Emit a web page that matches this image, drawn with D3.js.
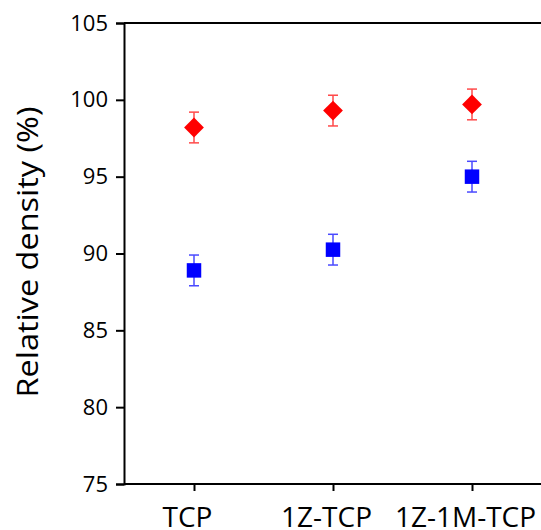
<!DOCTYPE html>
<html><head><meta charset="utf-8">
<script src="https://cdn.jsdelivr.net/npm/d3@7"></script>
<style>body{margin:0;background:#fff}svg{display:block}</style>
</head><body>
<svg id="c" width="541" height="530"></svg>
<script>
const categories = ["TCP", "1Z-TCP", "1Z-1M-TCP"];
const redValues = [98.2, 99.3, 99.7];
const redErrors = [1.0, 1.0, 1.0];
const blueValues = [88.9, 90.25, 95.0];
const blueErrors = [1.0, 1.0, 1.0];
const yTicks = [75, 80, 85, 90, 95, 100, 105];

const svg = d3.select("#c");
const font = "'Open Sans', sans-serif";
const x = d3.scalePoint().domain(categories).range([194, 472]);
const y = d3.scaleLinear().domain([75, 105]).range([484, 23]);

// frame
svg.append("line").attr("x1",124).attr("x2",560).attr("y1",23).attr("y2",23).attr("stroke","#000").attr("stroke-width",2);

const yAxis = svg.append("g").attr("transform","translate(124,0)")
  .call(d3.axisLeft(y).tickValues(yTicks).tickSize(8).tickPadding(8));
const xAxis = svg.append("g").attr("transform","translate(0,484)")
  .call(d3.axisBottom(x).tickSize(7).tickPadding(16));
xAxis.select(".domain").attr("d","M124,0H560");
[yAxis, xAxis].forEach(g=>{
  g.selectAll("path,line").attr("stroke","#000").attr("stroke-width",2);
  g.selectAll("text").attr("fill","#000").style("font-family",font);
});
yAxis.selectAll("text").style("font-size","22px");
xAxis.selectAll("text").style("font-size","28px").attr("dx",-7);

svg.append("text").attr("transform","translate(38,252) rotate(-90)")
  .attr("text-anchor","middle").style("font-family",font).style("font-size","30px")
  .attr("textLength",291).attr("lengthAdjust","spacingAndGlyphs")
  .text("Relative density (%)");

function drawSeries(vals, errs, color, barColor, sym, size){
  const g = svg.append("g");
  vals.forEach((v,i)=>{
    const cx = x(categories[i]);
    const e = errs[i];
    g.append("line").attr("x1",cx).attr("x2",cx).attr("y1",y(v+e)).attr("y2",y(v-e)).attr("stroke",barColor).attr("stroke-width",1.5);
    [v+e, v-e].forEach(t=>g.append("line").attr("x1",cx-5).attr("x2",cx+5).attr("y1",y(t)).attr("y2",y(t)).attr("stroke",barColor).attr("stroke-width",1.5));
    g.append("path").attr("transform",`translate(${cx},${y(v)})`)
      .attr("d", d3.symbol().type(sym).size(size)()).attr("fill",color);
  });
}
drawSeries(redValues, redErrors, "#ff0000", "#ff4a4a", d3.symbolDiamond2, 250);
drawSeries(blueValues, blueErrors, "#0000ff", "#4a4aff", d3.symbolSquare, 210);
</script>
</body></html>
